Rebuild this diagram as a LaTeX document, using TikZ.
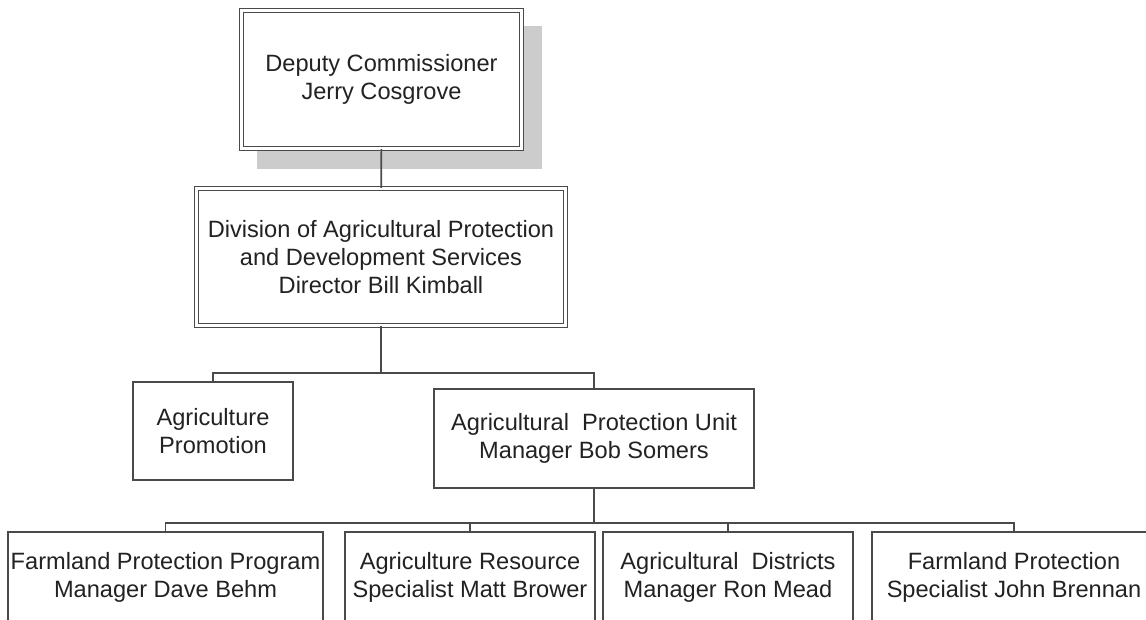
\documentclass[tikz,border=0pt]{standalone}
\usepackage{fontspec}
\setmainfont{Liberation Sans}
\definecolor{linec}{HTML}{4A4A4A}
\definecolor{textc}{HTML}{222222}
\definecolor{shadowc}{HTML}{CCCCCC}
\begin{document}
\begin{tikzpicture}[x=0.75pt,y=-0.75pt,
  basebox/.style={fill=white, inner sep=0pt, align=center, text=textc,
    font=\fontsize{17.7}{21}\selectfont},
  singlebox/.style={basebox, draw=linec, line width=1.3pt},
  dblbox/.style={basebox, draw=linec, line width=1pt, double=white, double distance=1.6pt},
  conn/.style={draw=linec, line width=1.2pt},
  thickconn/.style={draw=linec, line width=1.8pt}]
\useasboundingbox (0,0) rectangle (1146,620);
\clip (0,0) rectangle (1146,620);
% shadow
\fill[shadowc] (257,26) rectangle (542,169);
% nodes
\node[dblbox, minimum width=210pt, minimum height=103.5pt] (dep) at (381.5,79.5)
  {Deputy Commissioner\\Jerry Cosgrove};
\node[dblbox, minimum width=276.75pt, minimum height=102.75pt] (div) at (381,257)
  {Division of Agricultural Protection\\and Development Services\\Director Bill Kimball};
\node[singlebox, minimum width=120pt, minimum height=73.5pt] (promo) at (213,431)
  {Agriculture\\Promotion};
\node[singlebox, minimum width=240pt, minimum height=74.25pt] (apu) at (594,438.5)
  {Agricultural\ \ Protection Unit\\Manager Bob Somers};
\node[singlebox, minimum width=236.25pt, minimum height=67.5pt] (b1) at (165.5,577)
  {Farmland Protection Program\\Manager Dave Behm};
\node[singlebox, minimum width=187.5pt, minimum height=67.5pt] (b2) at (470,577)
  {Agriculture Resource\\Specialist Matt Brower};
\node[singlebox, minimum width=187.5pt, minimum height=67.5pt] (b3) at (728,577)
  {Agricultural\ \ Districts\\Manager Ron Mead};
\node[singlebox, minimum width=213pt, minimum height=67.5pt] (b4) at (1014,577)
  {Farmland Protection\\Specialist John Brennan};
% junctions
\coordinate (j1) at (381,373);
\coordinate (j2) at (594,523);
% connectors
\draw[conn] (dep) -- (div);
\draw[conn] (div) -- (j1);
\draw[conn] (promo.north) |- (j1) -| (apu.north);
\draw[thickconn] (apu) -- (j2);
\draw[conn] (b1.north) |- (j2) -| (b4.north);
\draw[conn] (b2.north) -- (b2.north |- j2);
\draw[conn] (b3.north) -- (b3.north |- j2);
\end{tikzpicture}
\end{document}
